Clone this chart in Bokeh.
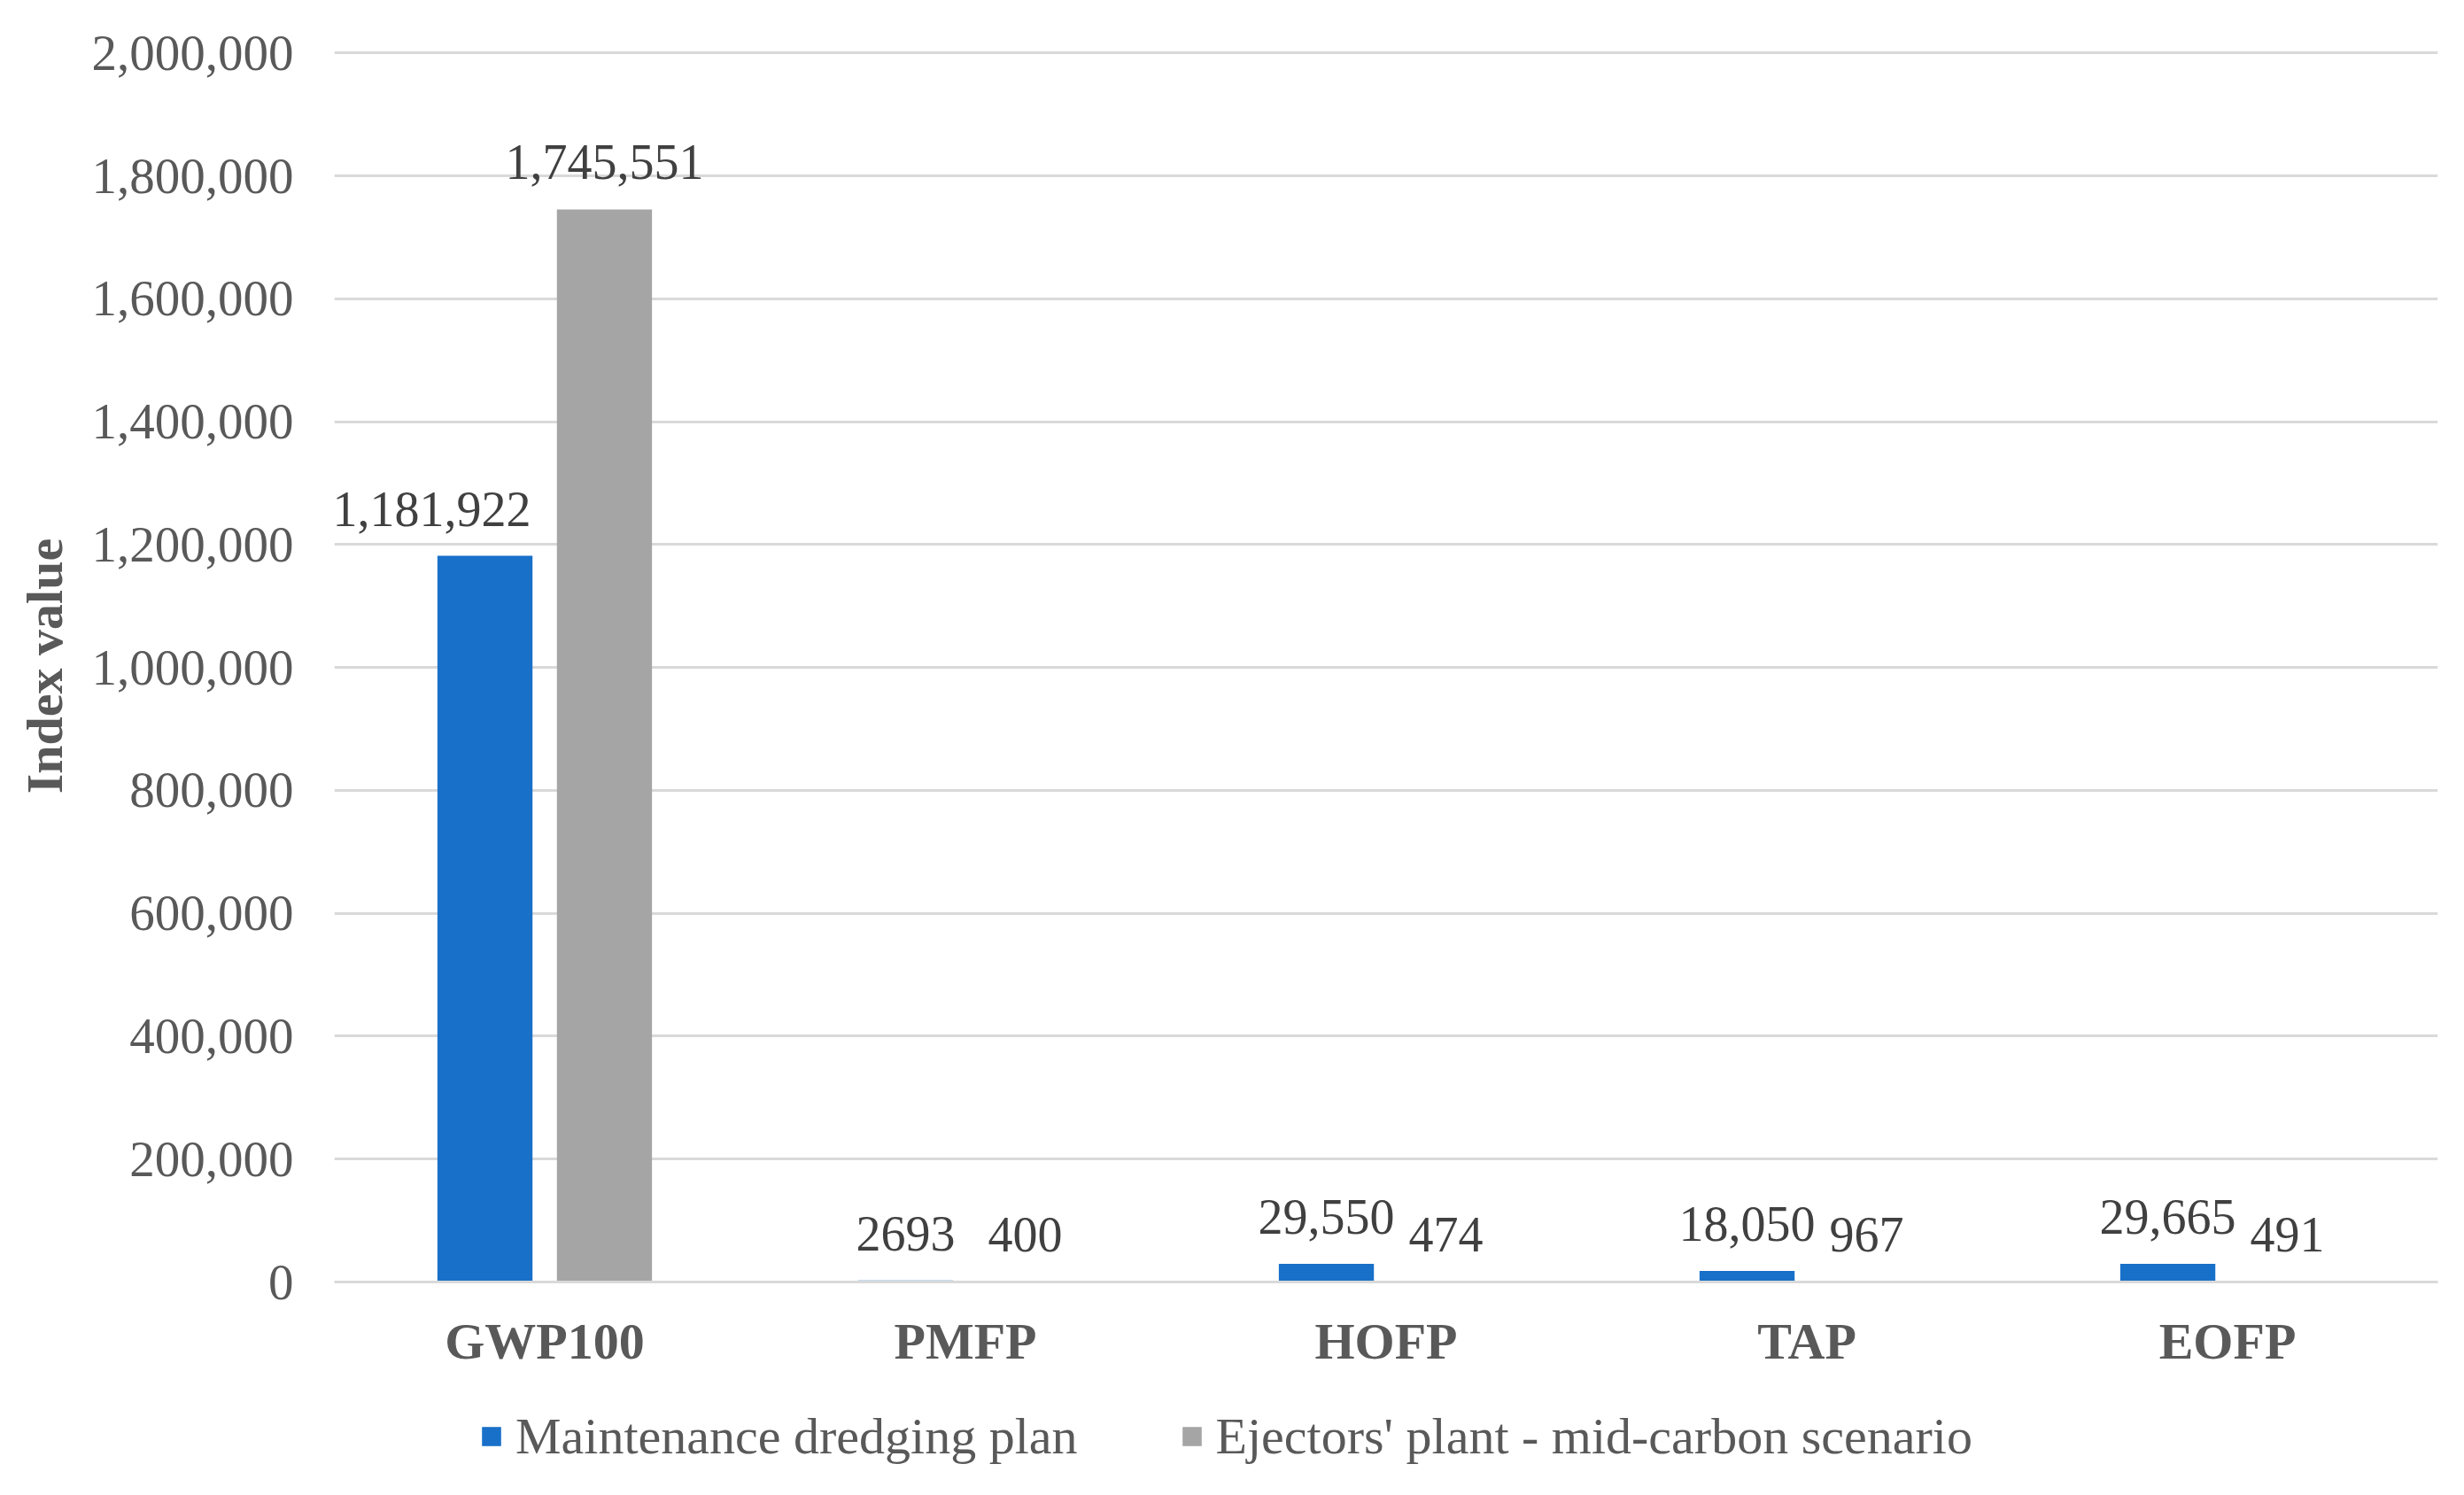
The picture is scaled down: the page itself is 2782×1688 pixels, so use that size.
from bokeh.plotting import figure
from bokeh.layouts import column
from bokeh.models import (ColumnDataSource, FactorRange, NumeralTickFormatter, LabelSet, Label,
                          Legend, LegendItem, SingleIntervalTicker)
from bokeh.transform import dodge
from bokeh.embed import file_html
from bokeh.resources import INLINE

categories = ["GWP100", "PMFP", "HOFP", "TAP", "EOFP"]
maintenance = [1181922, 2693, 29550, 18050, 29665]
ejectors = [1745551, 400, 474, 967, 491]
maintenance_labels = ["1,181,922", "2693", "29,550", "18,050", "29,665"]
ejectors_labels = ["1,745,551", "400", "474", "967", "491"]
series_names = ["Maintenance dredging plan", "Ejectors' plant - mid-carbon scenario"]

FONT = "Liberation Serif"
BLUE = "#1870C9"
GRAY = "#A5A5A5"
TXT = "#595959"

src = ColumnDataSource(dict(cat=categories, m=maintenance, e=ejectors,
                            ml=maintenance_labels, el=ejectors_labels))
src_rest = ColumnDataSource(dict(cat=categories[1:], m=maintenance[1:], ml=maintenance_labels[1:]))

p = figure(width=2766, height=1567, x_range=FactorRange(factors=categories, range_padding=0),
           y_range=(0, 2005000), output_backend="svg", toolbar_location=None,
           min_border_left=377, min_border_right=14, min_border_top=56, min_border_bottom=120)
p.outline_line_color = None
p.background_fill_color = "white"
p.border_fill_color = "white"

off = 0.142
bw = 0.226
r1 = p.vbar(x=dodge("cat", -off, range=p.x_range), top="m", width=bw, source=src,
            fill_color=BLUE, line_color=None)
r2 = p.vbar(x=dodge("cat", off, range=p.x_range), top="e", width=bw, source=src,
            fill_color=GRAY, line_color=None)

lab_kw = dict(text_align="center", text_baseline="middle", y_offset=53,
              text_font=FONT, text_font_size="56px", text_color="#404040")
p.add_layout(LabelSet(x=dodge("cat", -off, range=p.x_range), y="m", text="ml",
                      source=src_rest, **lab_kw))
p.add_layout(LabelSet(x=dodge("cat", off, range=p.x_range), y="e", text="el",
                      source=src, **lab_kw))
# first maintenance label is shifted left in the original to clear the taller bar
p.add_layout(Label(x=0.5 - off, y=maintenance[0], text=maintenance_labels[0],
                   x_offset=-60, **lab_kw))

# y axis
p.yaxis.ticker = SingleIntervalTicker(interval=200000)
p.yaxis.formatter = NumeralTickFormatter(format="0,0")
p.yaxis.axis_line_color = None
p.yaxis.major_tick_line_color = None
p.yaxis.minor_tick_line_color = None
p.yaxis.major_label_text_font = FONT
p.yaxis.major_label_text_font_size = "57px"
p.yaxis.major_label_text_color = TXT
p.yaxis.major_label_standoff = 40
p.yaxis.axis_label = "Index value"
p.yaxis.axis_label_text_font = FONT
p.yaxis.axis_label_text_font_style = "bold"
p.yaxis.axis_label_text_font_size = "58px"
p.yaxis.axis_label_text_color = TXT
p.yaxis.axis_label_standoff = 18

# x axis
p.xaxis.axis_line_color = "#D9D9D9"
p.xaxis.axis_line_width = 3
p.xaxis.major_tick_line_color = None
p.xaxis.minor_tick_line_color = None
p.xaxis.major_label_text_font = FONT
p.xaxis.major_label_text_font_style = "bold"
p.xaxis.major_label_text_font_size = "58px"
p.xaxis.major_label_text_color = TXT
p.xaxis.major_label_standoff = 28

p.xgrid.grid_line_color = None
p.ygrid.grid_line_color = "#D9D9D9"
p.ygrid.grid_line_width = 3

# legend strip below the chart (keys use one off-screen bar each, same colours)
lg = figure(width=2766, height=105, output_backend="svg", toolbar_location=None,
            x_range=(0, 1), y_range=(0, 1), min_border=0)
lg.axis.visible = False
lg.grid.grid_line_color = None
lg.outline_line_color = None
lg.border_fill_color = "white"
lg.background_fill_color = "white"
k1 = lg.vbar(x=[-10], top=[-10], width=0.1, fill_color=BLUE, line_color=None)
k2 = lg.vbar(x=[-10], top=[-10], width=0.1, fill_color=GRAY, line_color=None)

legend = Legend(items=[LegendItem(label=series_names[0], renderers=[k1]),
                       LegendItem(label=series_names[1], renderers=[k2])],
                orientation="horizontal", location=(164, 17),
                border_line_color=None, background_fill_alpha=0,
                label_text_font=FONT, label_text_font_size="58px", label_text_color=TXT,
                glyph_width=27, glyph_height=27, label_standoff=14, spacing=115,
                padding=0, margin=0)
lg.add_layout(legend, "center")

layout = column(p, lg, spacing=0)
open("out.html", "w").write(file_html(layout, INLINE))
